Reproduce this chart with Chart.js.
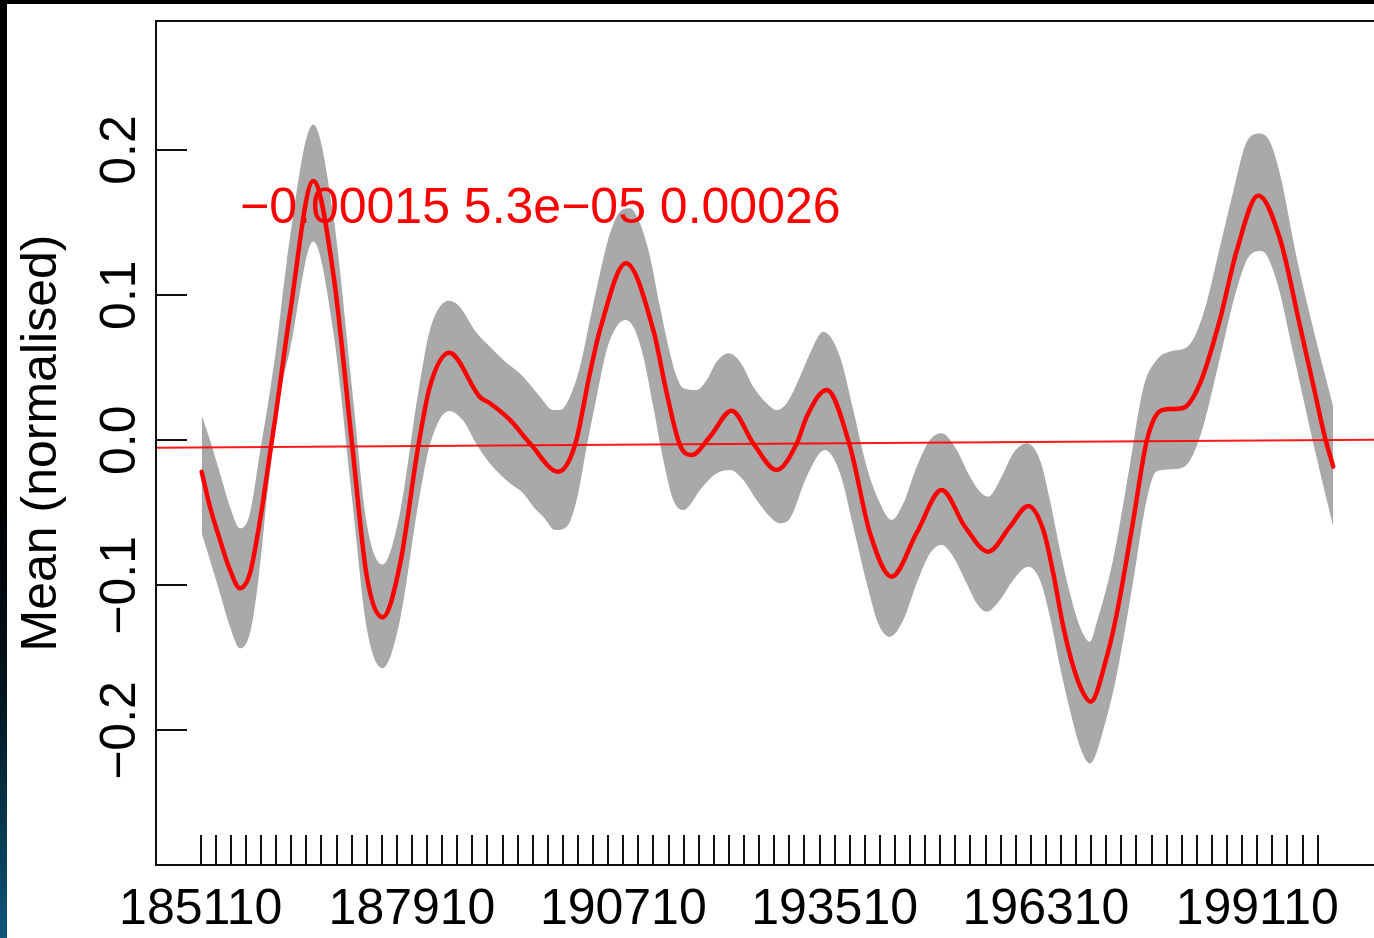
<!DOCTYPE html>
<html>
<head>
<meta charset="utf-8">
<script src="https://cdn.jsdelivr.net/npm/chart.js@4.4.1/dist/chart.umd.min.js"></script>
<style>
  html, body { margin: 0; padding: 0; width: 1374px; height: 938px; overflow: hidden; background: #000; }
  #strip { position: absolute; left: 0; top: 0; width: 7px; height: 938px;
           background: linear-gradient(to bottom, #000 0%, #000 52%, #03141f 74%, #0f5679 100%); }
  #panel { position: absolute; left: 7px; top: 4px; width: 1367px; height: 934px; background: #fff; }
  canvas { display: block; }
</style>
</head>
<body>
<div id="strip"></div>
<div id="panel"><canvas id="chart" width="1367" height="934"></canvas></div>
<script>
// Smoothed mean (normalised) with its confidence band, by year
const meanYears = [1851.13, 1852.23, 1853.56, 1854.88, 1856.21, 1857.53, 1858.42, 1859.29, 1860.18, 1860.85,
  1862.83, 1865.92, 1868.57, 1871.09, 1872.99, 1875.12, 1877.41, 1879.83, 1881.38, 1883.94,
  1888.01, 1889.33, 1891.98, 1894.63, 1898.38, 1900.60, 1902.58, 1903.91, 1907.35, 1910.97,
  1912.75, 1914.51, 1916.06, 1918.49, 1921.36, 1924.22, 1927.32, 1930.01, 1931.30, 1933.95,
  1937.04, 1939.69, 1942.56, 1945.87, 1949.18, 1952.27, 1955.36, 1958.23, 1960.66, 1962.65,
  1963.97, 1965.30, 1966.62, 1967.95, 1968.92, 1971.05, 1972.37, 1974.57, 1976.35, 1978.11,
  1979.44, 1981.16, 1983.41, 1986.06, 1988.27, 1991.13, 1994.00, 1996.65, 1998.42, 1999.97,
  2001.07];
const meanValues = [-0.0217, -0.0458, -0.0687, -0.0894, -0.1020, -0.0917, -0.0687, -0.0412, -0.0090, 0.0140,
  0.0873, 0.1787, 0.1148, -0.0041, -0.0931, -0.1219, -0.0856, -0.0041, 0.0372, 0.0603,
  0.0297, 0.0255, 0.0140, -0.0021, -0.0217, -0.0033, 0.0463, 0.0760, 0.1219, 0.0760,
  0.0324, -0.0033, -0.0102, 0.0025, 0.0204, -0.0021, -0.0205, -0.0019, 0.0162, 0.0346,
  -0.0044, -0.0641, -0.0940, -0.0639, -0.0343, -0.0596, -0.0768, -0.0596, -0.0453, -0.0619,
  -0.0917, -0.1285, -0.1560, -0.1744, -0.1802, -0.1494, -0.1200, -0.0552, -0.0007, 0.0200,
  0.0215, 0.0222, 0.0391, 0.0833, 0.1304, 0.1687, 0.1390, 0.0790, 0.0380, 0.0020,
  -0.0182];

const upperYears = [1851.13, 1852.23, 1853.56, 1854.88, 1856.21, 1857.53, 1858.86, 1860.00, 1861.07, 1862.40,
  1865.92, 1868.57, 1871.09, 1872.99, 1875.12, 1877.41, 1879.83, 1881.38, 1883.94, 1885.26,
  1887.46, 1889.33, 1891.10, 1893.74, 1895.96, 1897.72, 1898.61, 1899.93, 1901.26, 1902.58,
  1903.91, 1905.24, 1906.56, 1907.89, 1909.21, 1910.54, 1911.86, 1913.19, 1914.07, 1914.95,
  1916.72, 1918.05, 1919.37, 1920.91, 1922.46, 1924.22, 1926.00, 1927.32, 1928.65, 1930.41,
  1931.74, 1933.50, 1935.71, 1937.47, 1939.25, 1941.01, 1942.56, 1944.10, 1945.87, 1947.64,
  1949.18, 1951.17, 1952.94, 1954.26, 1955.36, 1956.91, 1958.67, 1960.45, 1962.21, 1963.53,
  1964.86, 1966.18, 1967.51, 1968.83, 1969.72, 1971.92, 1974.13, 1975.90, 1977.67, 1979.44,
  1981.65, 1982.97, 1984.30, 1986.06, 1987.83, 1989.60, 1991.36, 1992.69, 1994.01, 1996.22,
  1998.42, 2001.07];
const upperValues = [0.0174, 0.0002, -0.0228, -0.0458, -0.0607, -0.0504, -0.0080, 0.0277, 0.0656, 0.1224,
  0.2176, 0.1550, 0.0340, -0.0570, -0.0856, -0.0500, 0.0330, 0.0760, 0.0961, 0.0923,
  0.0748, 0.0645, 0.0553, 0.0438, 0.0300, 0.0208, 0.0208, 0.0300, 0.0507, 0.0829,
  0.1150, 0.1426, 0.1575, 0.1598, 0.1495, 0.1265, 0.0920, 0.0600, 0.0438, 0.0358,
  0.0346, 0.0415, 0.0541, 0.0600, 0.0541, 0.0369, 0.0255, 0.0208, 0.0255, 0.0438,
  0.0600, 0.0748, 0.0576, 0.0208, -0.0182, -0.0435, -0.0550, -0.0435, -0.0182, 0.0002,
  0.0048, -0.0067, -0.0251, -0.0355, -0.0389, -0.0274, -0.0090, -0.0021, -0.0136, -0.0412,
  -0.0756, -0.1055, -0.1285, -0.1388, -0.1258, -0.0817, -0.0169, 0.0362, 0.0553, 0.0612,
  0.0641, 0.0745, 0.0951, 0.1333, 0.1716, 0.2055, 0.2114, 0.2055, 0.1834, 0.1260,
  0.0770, 0.0231];

const lowerYears = [1851.13, 1852.23, 1853.56, 1854.88, 1856.21, 1857.53, 1858.42, 1859.08, 1859.75, 1860.55,
  1861.38, 1862.83, 1865.92, 1868.57, 1871.09, 1872.99, 1875.12, 1877.41, 1879.83, 1881.38,
  1883.94, 1885.80, 1887.57, 1889.33, 1891.98, 1893.74, 1895.07, 1896.40, 1897.95, 1899.50,
  1900.82, 1902.15, 1903.47, 1904.80, 1906.12, 1907.22, 1908.32, 1909.65, 1910.97, 1912.30,
  1913.62, 1914.95, 1915.84, 1917.16, 1919.37, 1921.13, 1922.90, 1924.67, 1926.43, 1927.76,
  1929.08, 1931.30, 1933.72, 1935.71, 1937.47, 1939.25, 1940.78, 1942.33, 1944.10, 1945.87,
  1947.64, 1949.18, 1950.72, 1952.49, 1953.82, 1955.14, 1956.91, 1958.67, 1960.66, 1962.21,
  1963.53, 1964.86, 1966.18, 1967.51, 1968.83, 1971.05, 1972.37, 1974.57, 1976.35, 1977.67,
  1980.32, 1982.08, 1983.85, 1986.06, 1988.27, 1990.03, 1991.58, 1993.57, 1995.77, 1998.42,
  2001.07];
const lowerValues = [-0.0641, -0.0825, -0.1055, -0.1285, -0.1434, -0.1330, -0.1055, -0.0756, -0.0412, -0.0067,
  0.0277, 0.0620, 0.1369, 0.0750, -0.0420, -0.1290, -0.1570, -0.1240, -0.0440, -0.0030,
  0.0202, 0.0134, -0.0029, -0.0160, -0.0297, -0.0366, -0.0458, -0.0527, -0.0619, -0.0596,
  -0.0412, -0.0044, 0.0300, 0.0622, 0.0783, 0.0829, 0.0783, 0.0576, 0.0231, -0.0136,
  -0.0412, -0.0481, -0.0446, -0.0343, -0.0228, -0.0205, -0.0274, -0.0412, -0.0527, -0.0572,
  -0.0540, -0.0251, -0.0067, -0.0228, -0.0596, -0.0986, -0.1262, -0.1354, -0.1239, -0.0986,
  -0.0779, -0.0722, -0.0803, -0.0986, -0.1124, -0.1182, -0.1101, -0.0963, -0.0872, -0.0963,
  -0.1216, -0.1560, -0.1859, -0.2112, -0.2227, -0.1910, -0.1620, -0.0970, -0.0410, -0.0213,
  -0.0198, -0.0139, 0.0097, 0.0568, 0.1039, 0.1275, 0.1304, 0.1098, 0.0600, -0.0020,
  -0.0596];

// Fitted linear trend across the full plotting range
const trendYears = [1845.08, 2006.47];
const trendValues = [-0.0051, 0.0003];

// Axis ticks and labels
const xTickYears = [1851, 1853, 1855, 1857, 1859, 1861, 1863, 1865, 1867, 1869, 1871, 1873, 1875, 1877, 1879,
  1881, 1883, 1885, 1887, 1889, 1891, 1893, 1895, 1897, 1899, 1901, 1903, 1905, 1907, 1909,
  1911, 1913, 1915, 1917, 1919, 1921, 1923, 1925, 1927, 1929, 1931, 1933, 1935, 1937, 1939,
  1941, 1943, 1945, 1947, 1949, 1951, 1953, 1955, 1957, 1959, 1961, 1963, 1965, 1967, 1969,
  1971, 1973, 1975, 1977, 1979, 1981, 1983, 1985, 1987, 1989, 1991, 1993, 1995, 1997, 1999];
const xLabelYears = [1851, 1879, 1907, 1935, 1963, 1991];
const xLabels = ['185110', '187910', '190710', '193510', '196310', '199110'];
const yTickValues = [-0.2, -0.1, 0, 0.1, 0.2];
const yLabels = ['\u22120.2', '\u22120.1', '0.0', '0.1', '0.2'];
const yTitle = 'Mean (normalised)';

// Trend interval text and where it sits
const noteText = '\u22120.00015 5.3e\u221205 0.00026';
const noteYear = 1896.0;
const noteValue = 0.159;

const toPoints = (xs, ys) => xs.map((x, i) => ({ x: x, y: ys[i] }));

const FONT = '50px "Liberation Sans", Arial, Helvetica, sans-serif';

const axesPlugin = {
  id: 'rAxes',
  afterDatasetsDraw(chart) {
    const { ctx, chartArea: a, scales: { x, y } } = chart;
    ctx.save();
    ctx.strokeStyle = '#111';
    ctx.lineWidth = 2;
    // frame: left, top and bottom edges
    ctx.beginPath();
    ctx.moveTo(chart.width, a.top);
    ctx.lineTo(a.left, a.top);
    ctx.lineTo(a.left, a.bottom);
    ctx.lineTo(chart.width, a.bottom);
    ctx.stroke();
    // inward ticks
    ctx.beginPath();
    xTickYears.forEach(v => {
      const px = Math.round(x.getPixelForValue(v));
      ctx.moveTo(px, a.bottom);
      ctx.lineTo(px, a.bottom - 30);
    });
    yTickValues.forEach(v => {
      const py = Math.round(y.getPixelForValue(v));
      ctx.moveTo(a.left, py);
      ctx.lineTo(a.left + 31, py);
    });
    ctx.stroke();

    ctx.fillStyle = '#000';
    ctx.font = FONT;
    ctx.textAlign = 'center';
    ctx.textBaseline = 'alphabetic';
    xLabelYears.forEach((v, i) => {
      ctx.fillText(xLabels[i], x.getPixelForValue(v), 920);
    });
    yTickValues.forEach((v, i) => {
      ctx.save();
      ctx.translate(128, y.getPixelForValue(v));
      ctx.rotate(-Math.PI / 2);
      ctx.fillText(yLabels[i], 0, 0);
      ctx.restore();
    });
    ctx.save();
    ctx.translate(49, (a.top + a.bottom) / 2);
    ctx.rotate(-Math.PI / 2);
    ctx.fillText(yTitle, 0, 0);
    ctx.restore();

    ctx.fillStyle = '#ff0000';
    ctx.textBaseline = 'middle';
    ctx.fillText(noteText, x.getPixelForValue(noteYear), y.getPixelForValue(noteValue));
    ctx.restore();
  }
};

new Chart(document.getElementById('chart'), {
  type: 'line',
  data: {
    datasets: [
      {
        data: toPoints(upperYears, upperValues),
        borderColor: 'rgba(0,0,0,0)', borderWidth: 0, pointRadius: 0,
        backgroundColor: '#a9a9a9', fill: '+1',
        cubicInterpolationMode: 'monotone', order: 3
      },
      {
        data: toPoints(lowerYears, lowerValues),
        borderColor: 'rgba(0,0,0,0)', borderWidth: 0, pointRadius: 0,
        fill: false, cubicInterpolationMode: 'monotone', order: 3
      },
      {
        data: toPoints(meanYears, meanValues),
        borderColor: '#ff0000', borderWidth: 4.5, pointRadius: 0, fill: false,
        borderCapStyle: 'round', borderJoinStyle: 'round',
        cubicInterpolationMode: 'monotone', order: 1
      },
      {
        data: toPoints(trendYears, trendValues),
        borderColor: 'rgba(255,0,0,0.9)', borderWidth: 2, pointRadius: 0, fill: false,
        tension: 0, order: 0
      }
    ]
  },
  options: {
    responsive: false,
    animation: false,
    events: [],
    layout: { padding: { left: 149, top: 17, right: 0, bottom: 73 } },
    scales: {
      x: { type: 'linear', min: 1845.08, max: 2006.47, display: false },
      y: { type: 'linear', min: -0.2927, max: 0.2889, display: false }
    },
    plugins: { legend: { display: false }, tooltip: { enabled: false } }
  },
  plugins: [axesPlugin]
});
</script>
</body>
</html>
